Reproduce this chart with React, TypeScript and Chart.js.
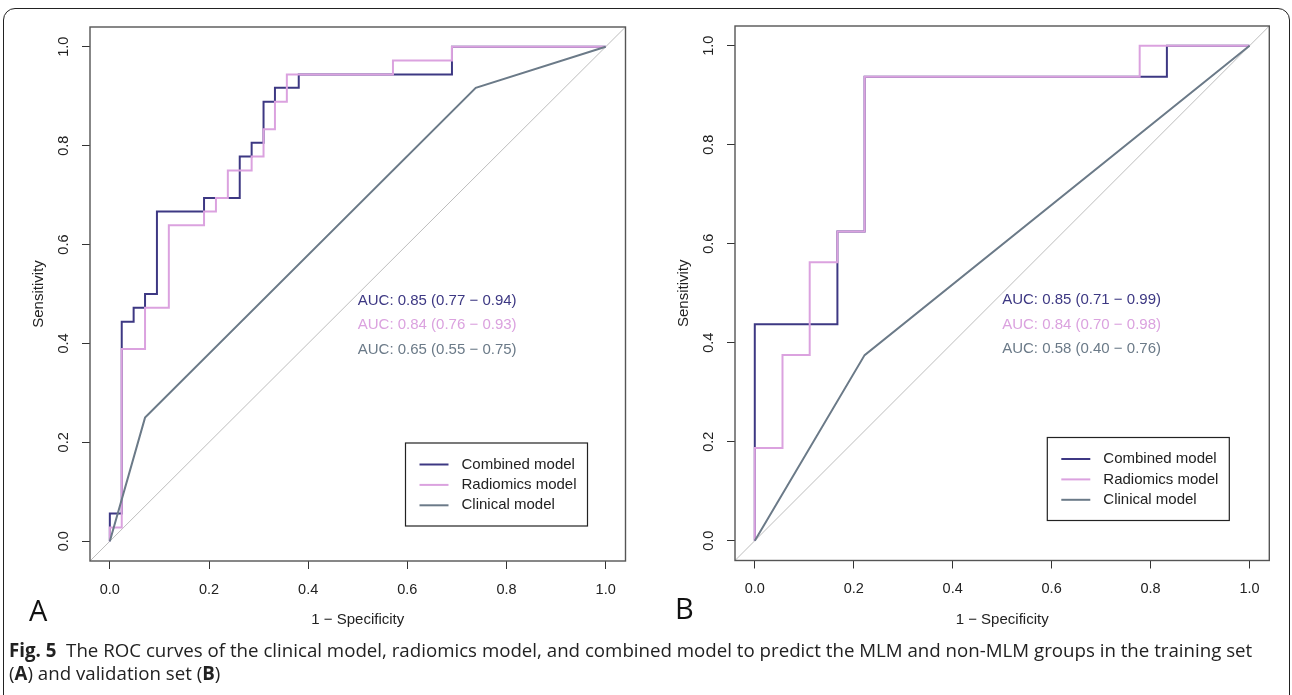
import React, { useEffect, useRef } from "react";
import { Chart, registerables } from "chart.js";

Chart.register(...registerables);

// ---------- data ----------
const tickValues = [0, 0.2, 0.4, 0.6, 0.8, 1.0];
const axisMin = -0.04;
const axisMax = 1.04;
const seriesNames = ["Combined model", "Radiomics model", "Clinical model"];
const seriesColors = ["#3d3883", "#dba2df", "#6b7a88"];
const diagonalColor = "#bdbdbd";

// Training set (A)
const trainCombinedFpr = [0, 0, 0.024, 0.024, 0.048, 0.048, 0.071, 0.071, 0.095, 0.095, 0.19, 0.19, 0.262, 0.262, 0.286, 0.286, 0.31, 0.31, 0.333, 0.333, 0.381, 0.381, 0.69, 0.69, 1];
const trainCombinedTpr = [0, 0.056, 0.056, 0.444, 0.444, 0.472, 0.472, 0.5, 0.5, 0.667, 0.667, 0.694, 0.694, 0.778, 0.778, 0.806, 0.806, 0.889, 0.889, 0.917, 0.917, 0.944, 0.944, 1, 1];
const trainRadiomicsFpr = [0, 0, 0.024, 0.024, 0.071, 0.071, 0.119, 0.119, 0.19, 0.19, 0.214, 0.214, 0.238, 0.238, 0.286, 0.286, 0.31, 0.31, 0.333, 0.333, 0.357, 0.357, 0.571, 0.571, 0.69, 0.69, 1];
const trainRadiomicsTpr = [0, 0.028, 0.028, 0.389, 0.389, 0.472, 0.472, 0.639, 0.639, 0.667, 0.667, 0.694, 0.694, 0.75, 0.75, 0.778, 0.778, 0.833, 0.833, 0.889, 0.889, 0.944, 0.944, 0.972, 0.972, 1, 1];
const trainClinicalFpr = [0, 0.071, 0.738, 1];
const trainClinicalTpr = [0, 0.25, 0.917, 1];
const trainAuc = ["AUC: 0.85 (0.77 \u2212 0.94)", "AUC: 0.84 (0.76 \u2212 0.93)", "AUC: 0.65 (0.55 \u2212 0.75)"];

// Validation set (B)
const validCombinedFpr = [0, 0, 0.167, 0.167, 0.222, 0.222, 0.833, 0.833, 1];
const validCombinedTpr = [0, 0.4375, 0.4375, 0.625, 0.625, 0.9375, 0.9375, 1, 1];
const validRadiomicsFpr = [0, 0, 0.056, 0.056, 0.111, 0.111, 0.167, 0.167, 0.222, 0.222, 0.778, 0.778, 1];
const validRadiomicsTpr = [0, 0.1875, 0.1875, 0.375, 0.375, 0.5625, 0.5625, 0.625, 0.625, 0.9375, 0.9375, 1, 1];
const validClinicalFpr = [0, 0.222, 1];
const validClinicalTpr = [0, 0.375, 1];
const validAuc = ["AUC: 0.85 (0.71 \u2212 0.99)", "AUC: 0.84 (0.70 \u2212 0.98)", "AUC: 0.58 (0.40 \u2212 0.76)"];

const xTitle = "1 \u2212 Specificity";
const yTitle = "Sensitivity";
const aucAnchor = { x: 0.5, y: 0.486 };

const FONT = '"Liberation Sans", Arial, sans-serif';

const zip = (xs: number[], ys: number[]) => xs.map((x, i) => ({ x, y: ys[i] }));

type Panel = {
  letter: string;
  left: number;
  width: number;
  height: number;
  frame: { left: number; top: number; right: number; bottom: number };
  series: { x: number; y: number }[][];
  auc: string[];
  legendInset: { right: number; bottom: number };
  letterX: number;
  letterBaseline: number;
};

const panels: Panel[] = [
  {
    letter: "A",
    left: 0,
    width: 650,
    height: 640,
    frame: { left: 90, top: 27, right: 625.5, bottom: 561 },
    series: [zip(trainCombinedFpr, trainCombinedTpr), zip(trainRadiomicsFpr, trainRadiomicsTpr), zip(trainClinicalFpr, trainClinicalTpr)],
    auc: trainAuc,
    legendInset: { right: 38, bottom: 35 },
    letterX: 29,
    letterBaseline: 621,
  },
  {
    letter: "B",
    left: 645,
    width: 647,
    height: 640,
    frame: { left: 90, top: 26, right: 624.3, bottom: 560.5 },
    series: [zip(validCombinedFpr, validCombinedTpr), zip(validRadiomicsFpr, validRadiomicsTpr), zip(validClinicalFpr, validClinicalTpr)],
    auc: validAuc,
    legendInset: { right: 40, bottom: 40 },
    letterX: 30,
    letterBaseline: 619,
  },
];

function RocPanel({ p }: { p: Panel }) {
  const ref = useRef<HTMLCanvasElement | null>(null);

  useEffect(() => {
    if (!ref.current) return;
    const decor = {
      id: "rocDecor",
      afterDraw(chart: any) {
        const { ctx, chartArea } = chart;
        const xs = chart.scales.x;
        const ys = chart.scales.y;
        ctx.save();
        // frame
        ctx.strokeStyle = "#555";
        ctx.lineWidth = 1.4;
        ctx.strokeRect(chartArea.left, chartArea.top, chartArea.right - chartArea.left, chartArea.bottom - chartArea.top);
        // rotated y tick labels
        ctx.fillStyle = "#222";
        ctx.font = `14.5px ${FONT}`;
        ctx.textAlign = "center";
        ctx.textBaseline = "middle";
        tickValues.forEach((v) => {
          const py = ys.getPixelForValue(v);
          ctx.save();
          ctx.translate(chartArea.left - 26, py);
          ctx.rotate(-Math.PI / 2);
          ctx.fillText(v.toFixed(1), 0, 0);
          ctx.restore();
        });
        // AUC texts
        ctx.font = `15px ${FONT}`;
        ctx.textAlign = "left";
        const ax = xs.getPixelForValue(aucAnchor.x);
        const ay = ys.getPixelForValue(aucAnchor.y);
        p.auc.forEach((t, i) => {
          ctx.fillStyle = seriesColors[i];
          ctx.fillText(t, ax, ay + i * 24.4);
        });
        // legend
        const bw = 182;
        const bh = 83;
        const bx = chartArea.right - p.legendInset.right - bw;
        const by = chartArea.bottom - p.legendInset.bottom - bh;
        ctx.fillStyle = "#fff";
        ctx.fillRect(bx, by, bw, bh);
        ctx.strokeStyle = "#222";
        ctx.lineWidth = 1.2;
        ctx.strokeRect(bx, by, bw, bh);
        seriesNames.forEach((name, i) => {
          const ry = by + 21.5 + i * 20.4;
          ctx.strokeStyle = seriesColors[i];
          ctx.lineWidth = 2;
          ctx.beginPath();
          ctx.moveTo(bx + 14, ry);
          ctx.lineTo(bx + 43, ry);
          ctx.stroke();
          ctx.fillStyle = "#222";
          ctx.textBaseline = "middle";
          ctx.fillText(name, bx + 56, ry);
        });
        // panel letter
        ctx.fillStyle = "#111";
        ctx.font = `29px "Open Sans", sans-serif`;
        ctx.textBaseline = "alphabetic";
        ctx.textAlign = "left";
        ctx.fillText(p.letter, p.letterX, p.letterBaseline);
        ctx.restore();
      },
    };

    const lineDs = (data: any, color: string, order: number, width = 2) => ({
      data,
      borderColor: color,
      backgroundColor: color,
      borderWidth: width,
      pointRadius: 0,
      tension: 0,
      fill: false,
      order,
    });

    const chart = new Chart(ref.current, {
      type: "line",
      data: {
        datasets: [
          lineDs(p.series[0], seriesColors[0], 2),
          lineDs(p.series[1], seriesColors[1], 1),
          lineDs(p.series[2], seriesColors[2], 0),
          lineDs([{ x: axisMin, y: axisMin }, { x: axisMax, y: axisMax }], diagonalColor, 3, 1),
        ],
      },
      options: {
        animation: false,
        responsive: false,
        devicePixelRatio: 1,
        events: [],
        layout: { padding: { left: 0, top: p.frame.top, right: p.width - p.frame.right, bottom: 0 } },
        plugins: { legend: { display: false }, tooltip: { enabled: false } },
        scales: {
          x: {
            type: "linear",
            min: axisMin,
            max: axisMax,
            afterBuildTicks: (s: any) => {
              s.ticks = tickValues.map((v) => ({ value: v }));
            },
            afterFit: (s: any) => {
              s.height = p.height - p.frame.bottom;
            },
            border: { display: false },
            grid: { drawOnChartArea: false, drawTicks: true, tickLength: 8, color: "#333", lineWidth: 1 },
            ticks: {
              autoSkip: false,
              maxRotation: 0,
              minRotation: 0,
              padding: 12,
              color: "#222",
              font: { family: FONT, size: 14.5 },
              callback: (v: any) => Number(v).toFixed(1),
            },
            title: {
              display: true,
              text: xTitle,
              color: "#222",
              font: { family: FONT, size: 15 },
              padding: { top: 0, bottom: 11 },
            },
          },
          y: {
            type: "linear",
            min: axisMin,
            max: axisMax,
            afterBuildTicks: (s: any) => {
              s.ticks = tickValues.map((v) => ({ value: v }));
            },
            afterFit: (s: any) => {
              s.width = p.frame.left;
            },
            border: { display: false },
            grid: { drawOnChartArea: false, drawTicks: true, tickLength: 8, color: "#333", lineWidth: 1 },
            ticks: { display: false },
            title: {
              display: true,
              text: yTitle,
              color: "#222",
              font: { family: FONT, size: 15 },
              padding: { top: 30, bottom: 0 },
            },
          },
        },
      },
      plugins: [decor],
    } as any);
    return () => chart.destroy();
  }, [p]);

  return (
    <canvas
      ref={ref}
      width={p.width}
      height={p.height}
      style={{ position: "absolute", left: p.left, top: 0, width: p.width, height: p.height }}
    />
  );
}

export default function App() {
  return (
    <div style={{ position: "absolute", left: 0, top: 0, width: 1292, height: 695, overflow: "hidden", background: "#fff" }}>
      <div
        style={{
          position: "absolute",
          left: 3,
          top: 8,
          width: 1287,
          height: 700,
          border: "1.5px solid #222",
          borderRadius: 12,
          boxSizing: "border-box",
        }}
      />
      {panels.map((p) => (
        <RocPanel key={p.letter} p={p} />
      ))}
      <div
        style={{
          position: "absolute",
          left: 9,
          top: 638,
          whiteSpace: "nowrap",
          fontFamily: '"Open Sans", sans-serif',
          fontSize: 18.7,
          lineHeight: "23px",
          color: "#222",
        }}
      >
        <b>Fig. 5</b>&nbsp;&nbsp;The ROC curves of the clinical model, radiomics model, and combined model to predict the MLM and non-MLM groups in the training set
        <br />
        (<b>A</b>) and validation set (<b>B</b>)
      </div>
    </div>
  );
}
